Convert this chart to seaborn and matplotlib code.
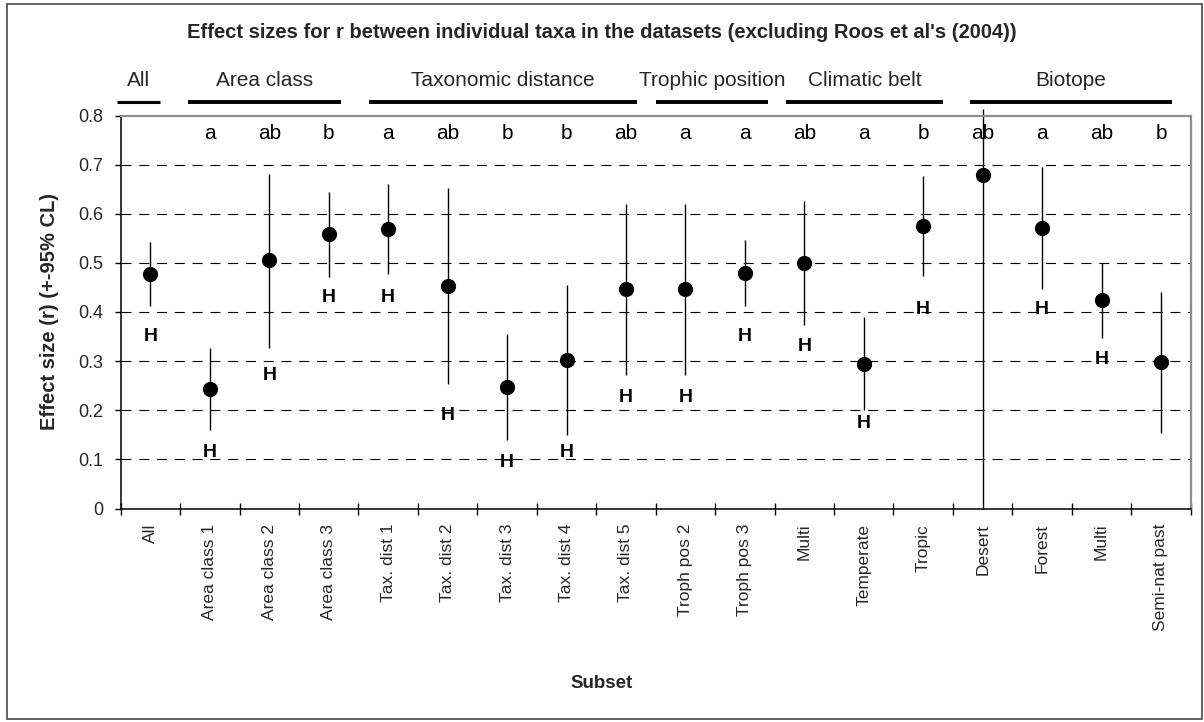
import numpy as np
import pandas as pd
import matplotlib
matplotlib.use("Agg")
import matplotlib.pyplot as plt
import seaborn as sns
from matplotlib import transforms
from matplotlib.patches import Rectangle

# ---------------- data ----------------
subsets = ["All", "Area class 1", "Area class 2", "Area class 3",
           "Tax. dist 1", "Tax. dist 2", "Tax. dist 3", "Tax. dist 4", "Tax. dist 5",
           "Troph pos 2", "Troph pos 3", "Multi", "Temperate", "Tropic",
           "Desert", "Forest", "Multi", "Semi-nat past"]
effect = [0.478, 0.244, 0.505, 0.559, 0.569, 0.452, 0.247, 0.302, 0.446,
          0.446, 0.479, 0.499, 0.295, 0.575, 0.678, 0.571, 0.425, 0.299]
ci_low = [0.413, 0.159, 0.326, 0.472, 0.477, 0.254, 0.140, 0.149, 0.271,
          0.271, 0.412, 0.374, 0.201, 0.473, 0.000, 0.447, 0.348, 0.154]
ci_high = [0.542, 0.327, 0.681, 0.644, 0.661, 0.652, 0.355, 0.455, 0.619,
           0.619, 0.547, 0.626, 0.389, 0.676, 0.814, 0.696, 0.500, 0.441]
letters = ["", "a", "ab", "b", "a", "ab", "b", "b", "ab",
           "a", "a", "ab", "a", "b", "ab", "a", "ab", "b"]
h_level = [0.350, 0.115, 0.270, 0.430, 0.430, 0.190, 0.094, 0.115, 0.225,
           0.225, 0.350, 0.330, 0.174, 0.406, None, 0.406, 0.303, None]
groups = ["All", "Area class", "Taxonomic distance", "Trophic position",
          "Climatic belt", "Biotope"]
y_ticks = [0, 0.1, 0.2, 0.3, 0.4, 0.5, 0.6, 0.7, 0.8]
y_tick_labels = ["0", "0.1", "0.2", "0.3", "0.4", "0.5", "0.6", "0.7", "0.8"]
title = "Effect sizes for r between individual taxa in the datasets (excluding Roos et al's (2004))"
x_label = "Subset"
y_label = "Effect size (r) (+-95% CL)"

# ---------------- layout (not data) ----------------
bar_start = [-0.57, 0.64, 3.68, 8.51, 10.69, 13.78]
bar_end = [0.16, 3.20, 8.19, 10.39, 13.33, 17.18]
bar_width = [2.2, 2.8, 2.8, 2.8, 2.8, 2.8]

W, H = 1204, 722
sns.set_theme(style="white")
plt.rcParams["font.family"] = ["Liberation Sans", "DejaVu Sans"]

fig = plt.figure(figsize=(W / 100, H / 100), dpi=100)
ax = fig.add_axes([120.7 / W, 1 - 508.5 / H, 1070 / W, 393 / H])

n = len(subsets)
df = pd.DataFrame({"pos": np.arange(n), "effect": effect,
                   "lo": ci_low, "hi": ci_high})

# grid lines
for yv in y_ticks[1:-1]:
    ax.axhline(yv, color="black", lw=0.8, linestyle=(0, (9, 7)), zorder=1)

# confidence intervals
ax.vlines(df["pos"], df["lo"], df["hi"], color="black", lw=1.0,
          zorder=2, clip_on=False)

sns.scatterplot(data=df, x="pos", y="effect", s=120, color="black",
                edgecolor="black", linewidth=0, legend=False, ax=ax, zorder=3)

# letters and H marks
for i in range(n):
    if letters[i]:
        ax.text(i, 0.752, letters[i], ha="center", va="baseline",
                fontsize=15, color="black")
    if h_level[i] is not None:
        ax.text(i, h_level[i], "H", ha="center", va="center",
                fontsize=14, fontweight="bold", color="black")

ax.set_xlim(-0.5, n - 0.5)
ax.set_ylim(0, 0.8)
ax.set_xlabel("")
ax.set_ylabel("")
ax.set_yticks(y_ticks)
ax.set_yticklabels(y_tick_labels, fontsize=13)
ax.set_xticks(np.arange(n))
ax.set_xticklabels(subsets, rotation=90, fontsize=12.5)
ax.set_xticks(np.arange(n + 1) - 0.5, minor=True)
ax.tick_params(axis="x", which="major", length=0, pad=11)
ax.tick_params(axis="x", which="minor", length=9, width=1, direction="inout",
               color="black", bottom=True)
ax.tick_params(axis="y", which="major", length=4.5, width=1, direction="out",
               color="black", left=True, pad=8)

for side in ["left", "bottom"]:
    ax.spines[side].set_color("black")
    ax.spines[side].set_linewidth(1.1)
for side in ["top", "right"]:
    ax.spines[side].set_color("#8c8c8c")
    ax.spines[side].set_linewidth(1.6)

# axis titles
fig.text(0.5, 1 - 683 / H, x_label, ha="center", va="center",
         fontsize=13.5, fontweight="bold")
fig.text(50 / W, 1 - 311.5 / H, y_label, ha="center", va="center",
         rotation=90, fontsize=14.5, fontweight="bold")

# group headers
trans = transforms.blended_transform_factory(ax.transData, fig.transFigure)
for g, s0, s1, lw in zip(groups, bar_start, bar_end, bar_width):
    ax.plot([s0, s1], [1 - 101.5 / H] * 2, color="black", lw=lw,
            transform=trans, clip_on=False, solid_capstyle="butt")
    ax.text((s0 + s1) / 2, 1 - 80 / H, g, ha="center", va="center",
            fontsize=15, transform=trans)

fig.text(0.5, 1 - 32 / H, title, ha="center", va="center",
         fontsize=14.5, fontweight="bold")

fig.patches.append(Rectangle((7 / W, 3 / H), (W - 9) / W, (H - 7) / H,
                             transform=fig.transFigure, fill=False,
                             edgecolor="#555555", lw=1.3))

fig.savefig("out.png", dpi=100)
